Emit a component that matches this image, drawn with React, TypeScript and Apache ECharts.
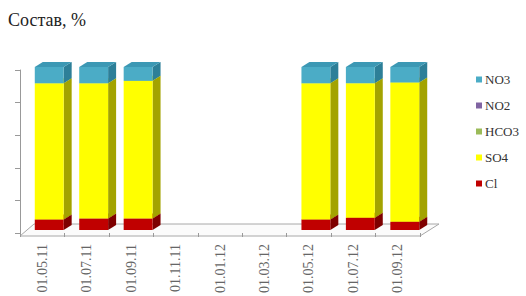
import React, { useEffect, useRef } from "react";
import * as echarts from "echarts";

const categories = ["01.05.11", "01.07.11", "01.09.11", "01.11.11", "01.01.12", "01.03.12", "01.05.12", "01.07.12", "01.09.12"];
const clValues = [6.5, 7, 7, null, null, null, 6.5, 7.5, 5];
const so4Values = [83.5, 83, 84.5, null, null, null, 83.5, 82.5, 85.5];
const hco3Values = [0, 0, 0, null, null, null, 0, 0, 0];
const no2Values = [0, 0, 0, null, null, null, 0, 0, 0];
const no3Values = [10, 10, 8.5, null, null, null, 10, 10, 9.5];
const legendOrder = ["NO3", "NO2", "HCO3", "SO4", "Cl"];
const yTicks = [0, 20, 40, 60, 80, 100];

const stackSeries = [
  { name: "Cl", values: clValues, front: "#c00000", side: "#7e0000", top: "#a00000" },
  { name: "SO4", values: so4Values, front: "#ffff00", side: "#a3a300", top: "#e6e600" },
  { name: "HCO3", values: hco3Values, front: "#9bbb59", side: "#6f8a3c", top: "#88a64c" },
  { name: "NO2", values: no2Values, front: "#8064a2", side: "#5a4676", top: "#6f5890" },
  { name: "NO3", values: no3Values, front: "#4bacc6", side: "#2d7f98", top: "#3c98b4" },
];

const GRID_LEFT = 20;
const GRID_TOP = 70;
const GRID_W = 400;
const GRID_H = 166;
const SHIFT_X = 7;
const SHIFT_Y = -3;
const DX = 8;
const DY = -5;

export default function App() {
  const ref = useRef<HTMLDivElement>(null);
  useEffect(() => {
    if (!ref.current) return;
    const chart = echarts.init(ref.current, null, { renderer: "svg" });
    const series = stackSeries.map((s, k) => {
      const data: any[] = [];
      categories.forEach((_, i) => {
        const v = s.values[i];
        if (v == null) return;
        let base = 0;
        for (let j = 0; j < k; j++) base += (stackSeries[j].values[i] as number) || 0;
        data.push([i, v, base]);
      });
      return {
        type: "custom",
        name: s.name,
        itemStyle: { color: s.front },
        encode: { x: 0, y: 1 },
        data,
        renderItem: (params: any, api: any) => {
          const i = api.value(0);
          const v = api.value(1);
          const b = api.value(2);
          if (!v) return null;
          const p0 = api.coord([i, b]);
          const p1 = api.coord([i, b + v]);
          const w = api.size([1, 0])[0] * 0.65;
          const x0 = p0[0] - w / 2 + SHIFT_X;
          const yb = p0[1] + SHIFT_Y;
          const yt = p1[1] + SHIFT_Y;
          return {
            type: "group",
            children: [
              {
                type: "polygon",
                shape: { points: [[x0 + w, yt], [x0 + w + DX, yt + DY], [x0 + w + DX, yb + DY], [x0 + w, yb]] },
                style: { fill: s.side },
              },
              {
                type: "polygon",
                shape: { points: [[x0, yt], [x0 + DX, yt + DY], [x0 + w + DX, yt + DY], [x0 + w, yt]] },
                style: { fill: s.top },
              },
              {
                type: "rect",
                shape: { x: x0, y: yt, width: w, height: yb - yt },
                style: { fill: s.front },
              },
            ],
          };
        },
      };
    });
    chart.setOption({
      animation: false,
      backgroundColor: "#ffffff",
      title: {
        text: "Состав, %",
        left: 8,
        top: 11,
        padding: 0,
        textStyle: { fontFamily: "Liberation Serif", fontSize: 18, fontWeight: "normal", color: "#222" },
      },
      legend: {
        data: legendOrder,
        orient: "vertical",
        left: 471,
        top: 68,
        itemWidth: 6,
        itemHeight: 6,
        itemGap: 13,
        icon: "rect",
        textStyle: { fontFamily: "Liberation Serif", fontSize: 13, color: "#333", padding: [0, 0, 0, -2] },
      },
      grid: { left: GRID_LEFT, top: GRID_TOP, width: GRID_W, height: GRID_H },
      graphic: [
        {
          type: "polygon",
          z: 0,
          shape: {
            points: [
              [GRID_LEFT, GRID_TOP + GRID_H],
              [GRID_LEFT + GRID_W, GRID_TOP + GRID_H],
              [GRID_LEFT + GRID_W + 19, GRID_TOP + GRID_H - 12],
              [GRID_LEFT + 14, GRID_TOP + GRID_H - 12],
            ],
          },
          style: { fill: "#fbfbfb", stroke: "#a8a8a8", lineWidth: 1 },
        },
      ],
      xAxis: {
        type: "category",
        data: categories,
        boundaryGap: true,
        axisLine: { show: false },
        axisTick: { show: true, length: 4, lineStyle: { color: "#999" } },
        axisLabel: {
          rotate: 90,
          margin: 11,
          fontFamily: "Liberation Serif",
          fontSize: 14,
          color: "#666",
        },
        splitLine: { show: false },
      },
      yAxis: {
        type: "value",
        min: yTicks[0],
        max: yTicks[yTicks.length - 1],
        interval: 20,
        axisLine: { show: true, lineStyle: { color: "#999" } },
        axisTick: { show: true, length: 5, lineStyle: { color: "#999" } },
        axisLabel: { show: false },
        splitLine: { show: false },
      },
      series,
    });
    return () => chart.dispose();
  }, []);
  return <div ref={ref} style={{ position: "absolute", left: 0, top: 0, width: 526, height: 296 }} />;
}
